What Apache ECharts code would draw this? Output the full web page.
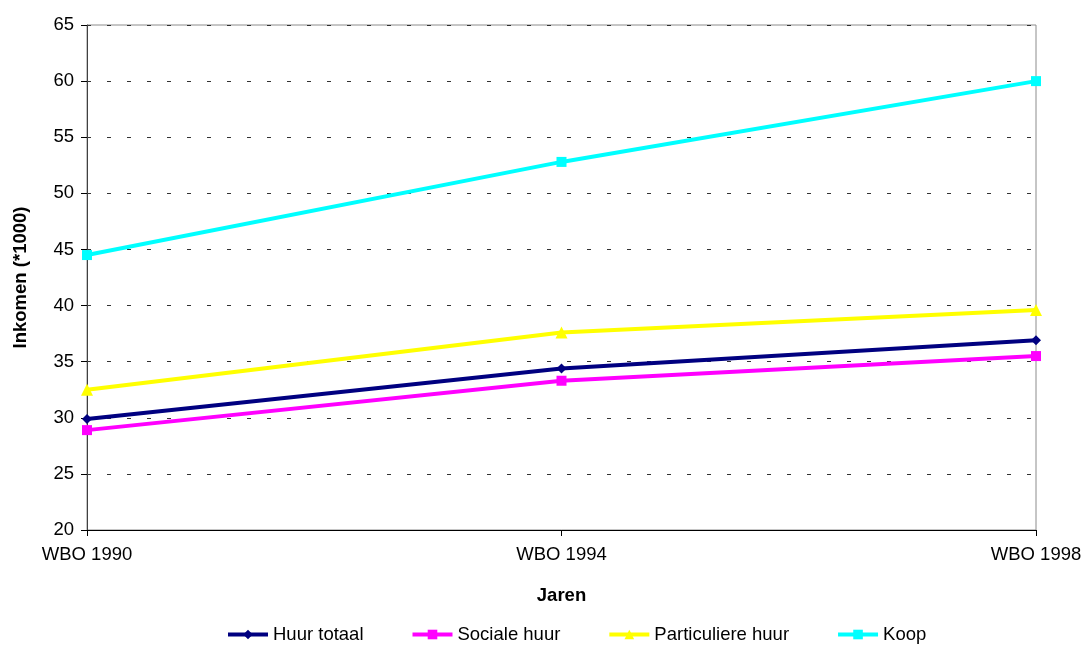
<!DOCTYPE html>
<html>
<head>
<meta charset="utf-8">
<script src="https://cdn.jsdelivr.net/npm/echarts@6/dist/echarts.min.js"></script>
<style>
  html, body { margin: 0; padding: 0; background: #fff; }
  #chart { width: 1086px; height: 647px; }
</style>
</head>
<body>
<div id="chart"></div>
<script>
// Gemiddeld inkomen per woningtype (x 1000)
const categories = ['WBO 1990', 'WBO 1994', 'WBO 1998'];
const huurTotaal = [29.9, 34.4, 36.9];
const socialeHuur = [28.9, 33.3, 35.5];
const particuliereHuur = [32.5, 37.6, 39.6];
const koop = [44.5, 52.8, 60.0];

const FONT = 'Liberation Sans, Arial, sans-serif';
const FS = 18.5;

function lineSeries(name, data, color, symbol, size) {
  return {
    name: name,
    type: 'line',
    data: data,
    symbol: symbol,
    symbolSize: size,
    lineStyle: { color: color, width: 4 },
    itemStyle: { color: color },
    emphasis: { disabled: true },
    animation: false
  };
}

const chart = echarts.init(document.getElementById('chart'), null, { renderer: 'canvas' });
chart.setOption({
  backgroundColor: '#ffffff',
  animation: false,
  textStyle: { fontFamily: FONT },
  grid: {
    left: 87, right: 50, top: 25, bottom: 117,
    show: true, borderColor: '#8c8c8c', borderWidth: 1, backgroundColor: 'transparent'
  },
  legend: {
    left: 221, top: 620,
    itemWidth: 40, itemHeight: 12, itemGap: 47,
    lineStyle: { width: 4 },
    textStyle: { fontSize: FS, color: '#000', fontFamily: FONT },
    data: ['Huur totaal', 'Sociale huur', 'Particuliere huur', 'Koop']
  },
  xAxis: {
    type: 'category',
    data: categories,
    boundaryGap: false,
    name: 'Jaren',
    nameLocation: 'middle',
    nameGap: 56,
    nameTextStyle: { fontSize: FS, fontWeight: 'bold', color: '#000', fontFamily: FONT },
    axisLine: { show: true, lineStyle: { color: '#000', width: 1 } },
    axisTick: { show: true, alignWithLabel: true, length: 6, lineStyle: { color: '#000' } },
    axisLabel: { fontSize: FS, color: '#000', margin: 15, fontFamily: FONT },
    splitLine: { show: false }
  },
  yAxis: {
    type: 'value',
    min: 20, max: 65, interval: 5,
    name: 'Inkomen (*1000)',
    nameLocation: 'middle',
    nameGap: 57,
    nameRotate: 90,
    nameTextStyle: { fontSize: FS, fontWeight: 'bold', color: '#000', fontFamily: FONT },
    axisLine: { show: true, lineStyle: { color: '#404040', width: 1 } },
    axisTick: { show: true, length: 6, lineStyle: { color: '#000' } },
    axisLabel: { fontSize: FS, color: '#000', margin: 13, fontFamily: FONT },
    splitLine: { show: true, lineStyle: { color: '#333', width: 1, type: [4, 16] } }
  },
  series: [
    lineSeries('Huur totaal', huurTotaal, '#000080', 'diamond', 10),
    lineSeries('Sociale huur', socialeHuur, '#ff00ff', 'rect', 10),
    lineSeries('Particuliere huur', particuliereHuur, '#ffff00', 'triangle', 12),
    lineSeries('Koop', koop, '#00ffff', 'rect', 10)
  ]
});
</script>
</body>
</html>
